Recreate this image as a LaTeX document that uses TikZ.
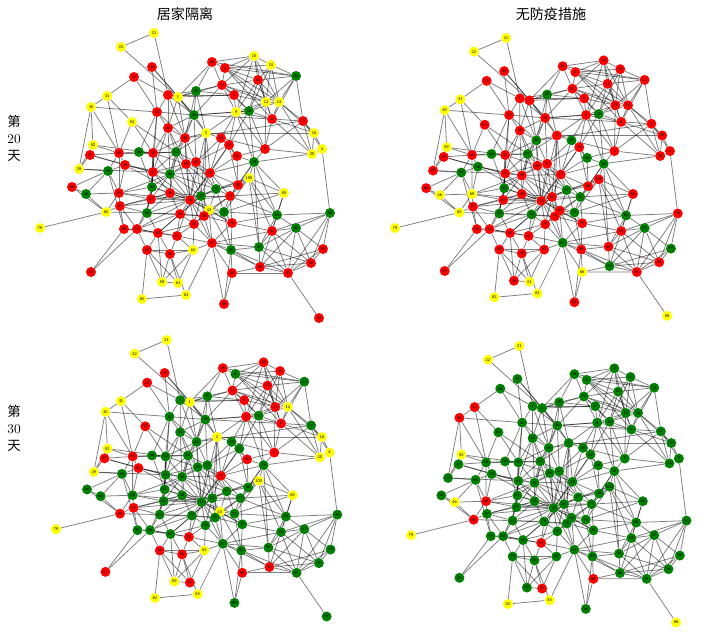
\documentclass[tikz,border=0pt]{standalone}
\usepackage{fontspec}
\usepackage{tikz}
\newfontfamily\cjk{Noto Sans CJK SC}

\definecolor{nred}{RGB}{255,0,0}
\definecolor{ngreen}{RGB}{0,128,0}
\definecolor{nyellow}{RGB}{255,255,0}

\pgfdeclarelayer{background}
\pgfsetlayers{background,main}

\tikzset{
  vtx/.style={circle, inner sep=0pt, minimum size=0.25cm,
    font=\sffamily\fontsize{3}{3}\selectfont},
  edge/.style={line width=0.55pt, black, opacity=0.5},
  hdr/.style={font=\cjk\fontsize{10}{10}\selectfont},
  side/.style={align=center, font=\fontsize{9.5}{12}\selectfont}
}

% node number / x / y (pixels of the upper left panel)
\def\netnodes{1/178/97, 2/206/133, 3/265/149, 4/322/149, 5/234/95,
  6/225/68, 7/168/95, 8/272/119, 9/236/112, 10/271/65,
  11/222/85, 12/266/102, 13/258/80, 14/279/102, 15/254/56,
  16/249/111, 17/303/121, 18/314/133, 19/254/162, 20/312/154,
  21/154/33, 22/121/47, 23/296/76, 24/229/145, 25/134/77,
  26/212/62, 27/90/155, 28/125/165, 29/79/169, 30/91/107,
  31/107/96, 32/157/112, 33/168/128, 34/152/67, 35/196/91,
  36/194/115, 37/196/162, 38/238/185, 39/186/164, 40/237/156,
  41/153/172, 42/201/196, 43/209/210, 44/170/174, 45/170/193,
  46/86/194, 47/152/187, 48/185/138, 49/221/138, 50/153/153,
  51/176/152, 52/132/122, 53/91/272, 54/137/229, 55/124/229,
  56/170/254, 57/120/206, 58/147/213, 59/162/282, 60/147/250,
  61/178/283, 62/193/250, 63/158/233, 64/108/171, 65/119/153,
  66/139/152, 67/151/199, 68/72/187, 69/119/193, 70/194/224,
  71/230/196, 72/210/173, 73/224/212, 74/190/200, 75/204/216,
  76/232/223, 77/216/189, 78/180/214, 79/40/228, 80/106/212,
  81/177/236, 82/142/299, 83/186/295, 84/277/215, 85/284/193,
  86/232/273, 87/212/243, 88/231/250, 89/224/304, 90/330/213,
  91/288/273, 92/93/145, 93/272/231, 94/260/267, 95/259/247,
  96/311/263, 97/296/228, 98/319/318, 99/323/249, 100/249/178}

\def\netedges{21/22, 21/7, 22/1, 34/32, 34/1, 34/36, 25/31, 25/7, 25/32,
  31/30, 31/52, 31/65, 30/32, 30/92, 30/29, 30/65, 52/65, 52/50, 52/51,
  92/65, 92/29, 92/50, 27/28, 27/29, 27/65, 27/41, 29/64, 29/41,
  28/65, 28/64, 28/41, 28/44, 28/69, 28/74, 64/46, 64/68, 64/69, 64/65, 64/55,
  65/66, 65/69, 66/50, 66/47, 66/51, 68/46, 68/80, 46/80, 46/69,
  69/57, 69/67, 69/47, 69/44, 69/74, 80/79, 80/57, 80/69, 80/58,
  57/55, 57/58, 57/54, 57/74, 57/45, 55/53, 55/54, 55/63,
  54/53, 54/63, 54/58, 54/60, 54/81, 54/74, 54/78,
  58/63, 58/78, 58/74, 58/47, 58/45, 58/75,
  63/60, 63/56, 63/81, 63/78, 63/70, 63/42,
  60/56, 60/59, 60/82, 60/62, 60/61, 56/61, 56/62, 56/81, 56/59, 56/83,
  59/61, 59/62, 59/63, 61/62, 82/83, 83/87, 62/87, 62/81, 62/70,
  81/70, 81/74, 81/78, 81/87, 70/74, 70/75, 70/78, 70/87, 70/43, 70/42,
  78/74, 78/75, 78/42, 78/45,
  74/42, 74/75, 74/43, 74/45, 74/67, 74/47, 74/41, 74/44, 74/39, 74/77,
  74/72, 74/71, 74/73, 74/87, 74/76, 74/48, 74/51, 74/37, 74/2, 74/100,
  42/77, 42/75, 42/43, 42/71, 42/72, 42/37, 42/39, 42/44, 42/45, 42/67, 42/2,
  75/43, 75/73, 75/87, 75/76, 75/71, 43/73, 43/77, 43/71, 43/87, 43/88, 43/76,
  73/71, 73/77, 73/76, 73/84, 73/88, 73/100, 73/85,
  76/87, 76/88, 76/93, 76/84, 76/71,
  77/72, 77/71, 77/38, 77/100, 77/39, 77/37, 77/44,
  71/38, 71/72, 71/85, 71/100, 71/84, 71/19,
  72/37, 72/39, 72/40, 72/38, 72/19, 72/24, 72/44,
  38/40, 38/19, 38/100, 38/24, 100/19, 100/85, 100/95, 100/84, 100/93,
  40/19, 40/24, 40/49, 40/3, 19/3, 19/20, 19/9, 19/16, 19/95, 19/84,
  85/84, 85/19, 85/93, 84/93, 84/97, 84/95, 84/90,
  90/4, 90/97, 90/99, 90/96, 90/91, 90/93,
  97/93, 97/99, 97/96, 97/91, 97/94, 97/95,
  93/95, 93/94, 93/91, 93/96, 93/87, 99/96, 99/91, 99/94,
  96/91, 96/94, 96/95, 94/91, 94/95, 94/88, 94/87, 94/86,
  91/86, 91/98, 91/95, 91/88, 95/88, 95/87, 88/86, 88/87, 88/89,
  86/87, 86/89, 87/89,
  26/6, 26/11, 26/15, 26/23, 26/1, 26/35,
  15/10, 15/13, 15/12, 15/14, 15/9, 15/11, 15/6,
  10/13, 10/12, 10/14, 10/23, 10/6, 10/16,
  23/13, 23/14, 23/12, 23/8, 23/17, 23/6, 6/11, 6/13, 6/14, 6/8, 6/12,
  13/11, 13/12, 13/9, 13/16, 13/14, 13/8,
  11/5, 11/1, 11/35, 11/9, 11/16, 11/36, 11/12, 11/14,
  5/9, 5/16, 5/12, 5/1, 5/35, 5/7, 12/9, 12/16, 12/14, 12/8, 12/3,
  14/8, 14/17, 14/20, 14/18, 14/16,
  9/16, 9/2, 9/24, 9/3, 9/36, 9/49, 9/8, 16/8, 16/3, 16/36, 16/24,
  8/17, 8/3, 8/20, 8/18, 17/18, 17/20, 17/4, 17/3, 18/4, 18/20, 20/3, 20/4,
  3/49, 2/48, 2/36, 2/51, 2/75, 2/49, 2/72, 49/24, 49/37, 49/72, 24/74, 24/37,
  7/1, 7/32, 7/33, 7/35, 7/48, 7/36, 1/35, 1/36, 1/48, 1/33, 1/2,
  35/36, 35/48, 35/2, 32/33, 32/48, 32/50, 32/41, 32/36, 32/66,
  33/48, 33/50, 33/51, 33/41, 33/44, 33/39, 33/36, 36/48, 36/51, 36/37,
  48/51, 48/39, 48/37, 48/50, 48/44,
  50/51, 50/41, 50/44, 50/65, 50/47, 50/39, 50/67,
  51/39, 51/37, 51/41, 51/44, 51/45, 39/37, 39/44, 39/41, 37/44,
  41/44, 41/47, 41/45, 41/67, 41/58, 44/45, 44/47, 44/67, 47/45, 47/67, 45/67,
  67/54, 67/57, 36/8, 48/17, 2/18}

% colour of a node in a panel (green when not set)
\newcommand\paint[3]{\foreach \k in {#3}{\expandafter\xdef\csname nc#1\k\endcsname{#2}}}

\newcommand\netpanel[4]{%
  \begin{scope}[shift={#2}, xscale=#3, yscale=#4]
    \foreach \i/\x/\y in \netnodes {
      \ifcsname nc#1\i\endcsname
        \edef\ncol{\csname nc#1\i\endcsname}%
      \else
        \def\ncol{ngreen}%
      \fi
      \node[vtx, fill=\ncol] (#1\i) at (\x,\y) {\i};
    }
    \begin{pgfonlayer}{background}
      \foreach \a/\b in \netedges {\draw[edge] (#1\a) -- (#1\b);}
    \end{pgfonlayer}
  \end{scope}}

\paint{A}{nyellow}{1,2,4,9,10,12,14,15,18,20,21,22,29,30,31,43,52,59,61,62,79,80,82,83,85,92,100}
\paint{A}{nred}{3,5,6,7,8,11,13,17,24,25,26,27,28,32,33,34,37,38,39,40,41,45,48,49,50,53,54,55,56,57,60,63,65,67,68,69,70,71,72,74,75,76,78,81,86,87,89,91,93,94,96,98,99}
\paint{B}{nyellow}{21,22,30,31,46,61,69,79,80,82,83,86,92,98}
\paint{B}{nred}{1,2,3,4,5,6,7,8,9,10,11,12,13,14,15,17,18,20,23,24,25,26,27,29,32,33,34,36,37,38,39,41,42,43,44,45,50,52,53,54,55,56,57,59,60,62,63,65,67,68,70,72,74,75,76,81,85,88,89,90,91,93,95,96,100}
\paint{C}{nyellow}{1,2,4,14,18,20,21,22,29,30,31,43,59,62,79,82,83,85,92,100}
\paint{C}{nred}{3,5,8,9,10,11,12,13,15,25,26,27,28,34,40,52,53,56,57,60,61,65,72,80,81,86,94}
\paint{D}{nyellow}{21,22,46,79,82,83,92,98}
\paint{D}{nred}{30,31,61,69,80,81,86}

\begin{document}
\begin{tikzpicture}[x=0.025cm, y=-0.025cm]
  \useasboundingbox (0,0) rectangle (704,632);

  % Titel
  \node[hdr] (h1) at (185,14) {居家隔离};
  \node[hdr] (h2) at (551,14) {无防疫措施};
  \node[side] (d20) at (14,138) {{\cjk 第}\\20\\{\cjk 天}};
  \node[side] (d30) at (14,428) {{\cjk 第}\\30\\{\cjk 天}};

  % Netze
  \netpanel{A}{(0,0)}{1}{1}
  \netpanel{B}{(356,5.8)}{0.975}{0.975}
  \netpanel{C}{(17.2,308)}{0.97}{0.97}
  \netpanel{D}{(373,314)}{0.95}{0.97}
\end{tikzpicture}
\end{document}
